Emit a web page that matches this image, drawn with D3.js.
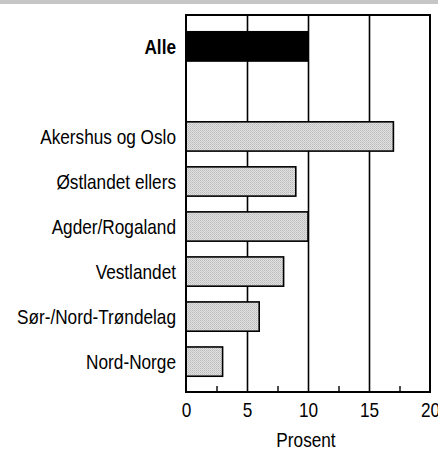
<!DOCTYPE html>
<html>
<head>
<meta charset="utf-8">
<script src="https://cdn.jsdelivr.net/npm/d3@7"></script>
<style>
    body { margin: 0; background: #fff; }
    text { font-family: "Liberation Sans", Arial, sans-serif; }
</style>
</head>
<body>
<svg id="chart" width="438" height="452"></svg>
<script>
// ------------------ DATA ------------------

// "gap" is the empty row between the total and the regions
let categories = ["Alle", "gap", "Akershus og Oslo", "Østlandet ellers", "Agder/Rogaland", "Vestlandet", "Sør-/Nord-Trøndelag", "Nord-Norge"];
let values = [10, null, 17, 9, 10, 8, 6, 3];
let tickLabels = [0, 5, 10, 15, 20];
let gridValues = [5, 10, 15];
let minorTicks = [2.5, 7.5, 12.5, 17.5];
let axisTitle = "Prosent";

// ------------------ LAYOUT ------------------

let svg = d3.select("#chart");
let plotLeft = 186, plotRight = 430, plotTop = 15, plotBottom = 392;
let narrow = 0.82; // squeeze text to mimic a condensed face

let x = d3.scaleLinear().domain([0, 20]).range([plotLeft, plotRight]);
let y = d3.scaleBand().domain(categories).range([plotTop + 1, plotBottom]).padding(0.35);

// scanner strip along the top edge
svg.append("rect")
    .attr("x", 0).attr("y", 0)
    .attr("width", 438).attr("height", 4)
    .attr("fill", "#c6c6c6");

// stipple fill for the regional bars
let pattern = svg.append("defs").append("pattern")
    .attr("id", "stipple")
    .attr("width", 2).attr("height", 2)
    .attr("patternUnits", "userSpaceOnUse");
pattern.append("rect").attr("width", 2).attr("height", 2).attr("fill", "#e2e2e2");
pattern.append("rect").attr("width", 1).attr("height", 1).attr("fill", "#b8b8b8");
pattern.append("rect").attr("x", 1).attr("y", 1).attr("width", 1).attr("height", 1).attr("fill", "#c8c8c8");

// ------------------ GRID ------------------

svg.append("g")
    .attr("class", "grid")
    .attr("transform", "translate(0," + plotBottom + ")")
    .call(d3.axisBottom(x).tickValues(gridValues).tickSize(-(plotBottom - plotTop)).tickFormat(""))
    .call(g => g.select(".domain").remove())
    .call(g => g.selectAll("line").attr("stroke", "#000").attr("stroke-width", 1.6));

svg.append("g")
    .attr("class", "minor")
    .attr("transform", "translate(0," + plotBottom + ")")
    .call(d3.axisBottom(x).tickValues(minorTicks).tickSize(-6).tickFormat(""))
    .call(g => g.select(".domain").remove())
    .call(g => g.selectAll("line").attr("stroke", "#000").attr("stroke-width", 1.4));

// ------------------ BARS ------------------

let rows = categories.map((c, i) => ({ name: c, value: values[i] }))
    .filter(d => d.value != null);

svg.append("g")
    .selectAll("rect")
    .data(rows)
    .enter().append("rect")
    .attr("x", x(0))
    .attr("y", d => y(d.name))
    .attr("width", d => x(d.value) - x(0))
    .attr("height", y.bandwidth())
    .attr("fill", d => d.name == "Alle" ? "#000" : "url(#stipple)")
    .attr("stroke", "#000")
    .attr("stroke-width", 1.6);

// frame
svg.append("rect")
    .attr("x", plotLeft).attr("y", plotTop)
    .attr("width", plotRight - plotLeft).attr("height", plotBottom - plotTop)
    .attr("fill", "none")
    .attr("stroke", "#000")
    .attr("stroke-width", 2);

// ------------------ LABELS ------------------

svg.append("g")
    .selectAll("text")
    .data(rows)
    .enter().append("text")
    .attr("transform", d => "translate(" + (plotLeft - 10) + "," + (y(d.name) + y.bandwidth() / 2 + 7.5) + ") scale(" + narrow + ",1)")
    .attr("text-anchor", "end")
    .attr("font-size", 21)
    .attr("font-weight", d => d.name == "Alle" ? "bold" : "normal")
    .attr("fill", "#000")
    .text(d => d.name);

svg.append("g")
    .attr("class", "x-axis")
    .attr("transform", "translate(0," + plotBottom + ")")
    .call(d3.axisBottom(x).tickValues(tickLabels).tickSize(0).tickPadding(10))
    .call(g => g.select(".domain").remove())
    .call(g => g.selectAll("text")
        .attr("transform", "scale(" + narrow + ",1)")
        .attr("font-size", 21)
        .attr("fill", "#000")
        .attr("font-family", null));

svg.append("text")
    .attr("transform", "translate(" + ((plotLeft + plotRight) / 2 - 2) + ",447) scale(" + narrow + ",1)")
    .attr("text-anchor", "middle")
    .attr("font-size", 21)
    .attr("fill", "#000")
    .text(axisTitle);
</script>
</body>
</html>
